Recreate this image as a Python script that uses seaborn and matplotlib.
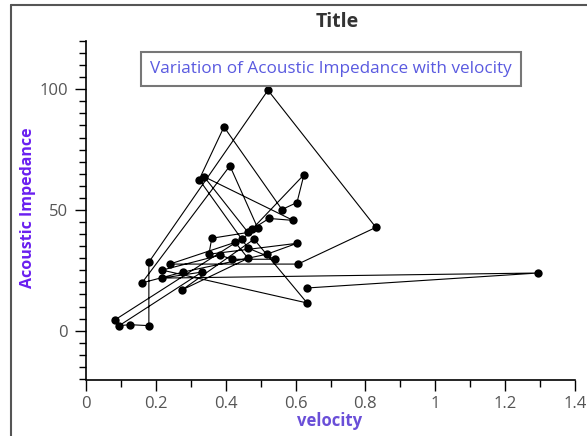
import matplotlib
matplotlib.use("Agg")
import matplotlib.pyplot as plt
from matplotlib.lines import Line2D
from matplotlib.ticker import MultipleLocator
import seaborn as sns
import pandas as pd

# Data (in drawing order)
velocity = [0.083, 0.492, 0.412, 0.160, 0.278, 0.518, 0.604, 0.352, 0.360, 0.464,
            0.338, 0.593, 0.524, 0.475, 0.624, 0.604, 0.561, 0.395, 0.324, 0.446,
            0.464, 0.541, 0.418, 0.384, 0.218, 0.633, 0.481, 0.275, 0.464, 0.427,
            0.240, 0.607, 0.830, 0.521, 0.180, 0.180, 0.126, 0.095, 0.332, 0.218,
            1.294, 0.633]
impedance = [4.5, 42.4, 68.3, 19.8, 24.3, 31.7, 36.2, 31.7, 38.3, 40.7,
             63.8, 45.7, 46.5, 42.0, 64.6, 53.1, 50.2, 84.4, 62.6, 37.9,
             34.2, 29.6, 29.6, 31.3, 25.1, 11.5, 37.9, 16.9, 30.0, 36.6,
             27.6, 27.6, 42.8, 99.6, 28.4, 2.1, 2.5, 2.1, 24.3, 21.8,
             23.9, 17.7]

title = "Title"
annotation = "Variation of Acoustic Impedance with velocity"
x_label = "velocity"
y_label = "Acoustic Impedance"
x_ticks = [0, 0.2, 0.4, 0.6, 0.8, 1.0, 1.2, 1.4]
x_tick_labels = ["0", "0.2", "0.4", "0.6", "0.8", "1", "1.2", "1.4"]
y_ticks = [0, 50, 100]

df = pd.DataFrame({"velocity": velocity, "impedance": impedance})

sns.set_style("ticks")
plt.rcParams["font.family"] = ["Open Sans", "DejaVu Sans"]

fig = plt.figure(figsize=(5.87, 4.36), dpi=100)
W, H = 587, 436
ax = fig.add_axes([86 / W, 1 - 379 / H, (575 - 86) / W, (379 - 41) / H])

sns.lineplot(data=df, x="velocity", y="impedance", sort=False, estimator=None,
             color="black", linewidth=0.8, marker="o", markersize=6,
             markeredgewidth=0, ax=ax)

ax.set_xlim(0, 1.4)
ax.set_ylim(-20, 120)
ax.set_xticks(x_ticks)
ax.set_xticklabels(x_tick_labels)
ax.set_yticks(y_ticks)
ax.xaxis.set_minor_locator(MultipleLocator(0.1))
ax.yaxis.set_minor_locator(MultipleLocator(5))
ax.tick_params(which="major", direction="out", length=8, width=1, color="black",
               labelsize=12, labelcolor="#555555", pad=3)
ax.tick_params(which="minor", direction="out", length=5, width=1, color="black")
ax.tick_params(axis="y", which="major", pad=5)
for s in ["top", "right"]:
    ax.spines[s].set_visible(False)
for s in ["left", "bottom"]:
    ax.spines[s].set_linewidth(1.2)
    ax.spines[s].set_color("black")
ax.spines["bottom"].set_position(("outward", 1))
ax.set_xlabel("")
ax.set_ylabel("")

ax.text(0.501, 0.917, annotation, transform=ax.transAxes, ha="center", va="center",
        fontsize=12.3, color="#5a5ae0",
        bbox=dict(boxstyle="square,pad=0.55", facecolor="white", edgecolor="#777777",
                  linewidth=1.5))

fig.text(337 / W, 1 - 22 / H, title, ha="center", va="center", fontsize=14,
         fontweight="bold", color="#333333")
fig.text(330 / W, 1 - 421 / H, x_label, ha="center", va="center", fontsize=12,
         fontweight="bold", color="#6a4fd8")
fig.text(28 / W, 1 - 208 / H, y_label, ha="center", va="center", rotation=90,
         fontsize=11.5, fontweight="bold", color="#6a1ff0")

# window frame lines (left and top)
fig.add_artist(Line2D([11 / W, 11 / W], [0, 1 - 5 / H], transform=fig.transFigure,
                      color="#555555", linewidth=1.5))
fig.add_artist(Line2D([11 / W, 1], [1 - 5 / H, 1 - 5 / H], transform=fig.transFigure,
                      color="#555555", linewidth=1.5))

fig.savefig("out.png", dpi=100, facecolor="white")
